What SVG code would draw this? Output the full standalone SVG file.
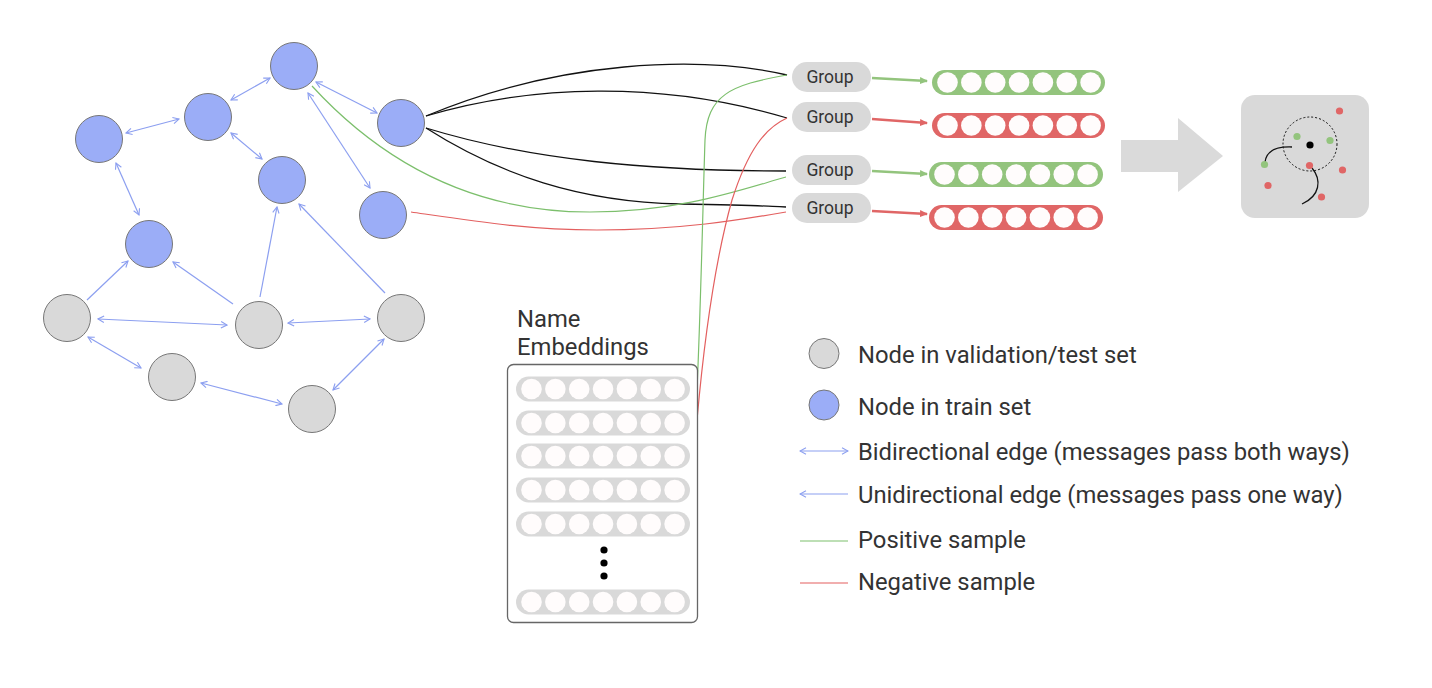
<svg xmlns="http://www.w3.org/2000/svg" xmlns:xlink="http://www.w3.org/1999/xlink" width="1432" height="688" viewBox="0 0 1432 688">
<style>
.train{fill:#9badf7;stroke:#777;stroke-width:1}
.test{fill:#d9d9d9;stroke:#777;stroke-width:1}
.e{stroke:#8c9ff0;stroke-width:1.2;fill:none}
.bi{marker-start:url(#chev);marker-end:url(#chev)}
.uni{marker-end:url(#chev)}
.blk{stroke:#111;stroke-width:1.3;fill:none}
.pos{stroke:#7cbf6c;stroke-width:1.2;fill:none}
.neg{stroke:#e35f5f;stroke-width:1.2;fill:none}
.pill{fill:#d9d9d9}
.gt{font-family:Roboto,"Liberation Sans",sans-serif;font-size:17.5px;fill:#333;text-anchor:middle}
.lt{font-family:Roboto,"Liberation Sans",sans-serif;font-size:23.8px;fill:#333}
.gbar{fill:#93c47d}
.rbar{fill:#e06666}
.nbar{fill:#d9d9d9}
</style>
<defs>
<marker id="chev" viewBox="0 0 8 8" refX="7" refY="4" markerWidth="8" markerHeight="8" markerUnits="userSpaceOnUse" orient="auto-start-reverse">
<path d="M1,0.8 L7,4 L1,7.2" fill="none" stroke="#8c9ff0" stroke-width="1.1"/>
</marker>
<marker id="ga" viewBox="0 0 8 8" refX="7" refY="4" markerWidth="8" markerHeight="8" markerUnits="userSpaceOnUse" orient="auto">
<path d="M0,0.5 L8,4 L0,7.5 Z" fill="#93c47d"/>
</marker>
<marker id="ra" viewBox="0 0 8 8" refX="7" refY="4" markerWidth="8" markerHeight="8" markerUnits="userSpaceOnUse" orient="auto">
<path d="M0,0.5 L8,4 L0,7.5 Z" fill="#e06666"/>
</marker>
<g id="dots" fill="#fffcfc">
<circle cx="15.5" cy="0" r="10.3"/>
<circle cx="39.35" cy="0" r="10.3"/>
<circle cx="63.2" cy="0" r="10.3"/>
<circle cx="87.05" cy="0" r="10.3"/>
<circle cx="110.9" cy="0" r="10.3"/>
<circle cx="134.75" cy="0" r="10.3"/>
<circle cx="158.6" cy="0" r="10.3"/>
</g>
</defs>
<rect width="1432" height="688" fill="#fff"/>

<g id="connectors">
<!-- graph edges -->
<line class="e bi" x1="270" y1="78" x2="231" y2="100"/>
<line class="e bi" x1="179" y1="119" x2="126" y2="133"/>
<line class="e bi" x1="231" y1="133" x2="262" y2="159"/>
<line class="e bi" x1="316" y1="82" x2="377" y2="113"/>
<line class="e bi" x1="308" y1="93" x2="370" y2="188"/>
<line class="e bi" x1="116" y1="163" x2="139" y2="215"/>
<line class="e uni" x1="260" y1="297" x2="277" y2="207"/>
<line class="e uni" x1="385" y1="293" x2="299" y2="204"/>
<line class="e uni" x1="87" y1="300" x2="128" y2="261"/>
<line class="e uni" x1="233" y1="304" x2="173" y2="262"/>
<line class="e bi" x1="98" y1="319" x2="227" y2="325"/>
<line class="e bi" x1="288" y1="323" x2="370" y2="319"/>
<line class="e bi" x1="88" y1="337" x2="141" y2="368"/>
<line class="e bi" x1="201" y1="383" x2="282" y2="404"/>
<line class="e bi" x1="333" y1="390" x2="384" y2="339"/>
<!-- curves to groups -->
<path class="blk" d="M426,116 C560,60 700,55 787,75"/>
<path class="blk" d="M426,116 C530,85 660,80 787,118"/>
<path class="blk" d="M426,128 C530,160 650,171 786,171"/>
<path class="blk" d="M426,128 C500,175 580,202 680,204 S760,206 786,207"/>
<path class="pos" d="M312,86 C380,160 470,212 590,212 C680,212 740,190 786,177"/>
<path class="neg" d="M411,212 C480,222 530,230 597,230 C680,230 740,220 786,212"/>
<path class="pos" d="M697,390 C701,300 703,200 705,140 C707,95 730,85 787,75"/>
<path class="neg" d="M697,420 C705,330 718,250 732,200 C748,150 765,128 787,118"/>
<!-- group to embedding arrows -->
<line x1="872" y1="78" x2="927" y2="81" stroke="#93c47d" stroke-width="2.4" marker-end="url(#ga)"/>
<line x1="872" y1="119" x2="927" y2="123" stroke="#e06666" stroke-width="2.4" marker-end="url(#ra)"/>
<line x1="872" y1="171" x2="927" y2="174" stroke="#93c47d" stroke-width="2.4" marker-end="url(#ga)"/>
<line x1="872" y1="211" x2="927" y2="214" stroke="#e06666" stroke-width="2.4" marker-end="url(#ra)"/>
</g>

<g id="node-train-1"><circle class="train" cx="294" cy="66" r="23.5"/></g>
<g id="node-train-2"><circle class="train" cx="208" cy="117" r="23.5"/></g>
<g id="node-train-3"><circle class="train" cx="99" cy="139" r="23.5"/></g>
<g id="node-train-4"><circle class="train" cx="401" cy="123" r="23.5"/></g>
<g id="node-train-5"><circle class="train" cx="282" cy="180" r="23.5"/></g>
<g id="node-train-6"><circle class="train" cx="383" cy="215" r="23.5"/></g>
<g id="node-train-7"><circle class="train" cx="149" cy="244" r="23.5"/></g>
<g id="node-test-1"><circle class="test" cx="67" cy="318" r="23.5"/></g>
<g id="node-test-2"><circle class="test" cx="259" cy="325" r="23.5"/></g>
<g id="node-test-3"><circle class="test" cx="401" cy="318" r="23.5"/></g>
<g id="node-test-4"><circle class="test" cx="172" cy="377" r="23.5"/></g>
<g id="node-test-5"><circle class="test" cx="312" cy="409" r="23.5"/></g>

<g id="group-1"><rect class="pill" x="792" y="62" width="79" height="30" rx="15"/><text class="gt" x="830" y="83">Group</text></g>
<g id="group-2"><rect class="pill" x="792" y="102" width="79" height="30" rx="15"/><text class="gt" x="830" y="123">Group</text></g>
<g id="group-3"><rect class="pill" x="792" y="155" width="79" height="30" rx="15"/><text class="gt" x="830" y="176">Group</text></g>
<g id="group-4"><rect class="pill" x="792" y="193" width="79" height="30" rx="15"/><text class="gt" x="830" y="214">Group</text></g>

<g id="emb-1"><rect class="gbar" x="932" y="70" width="173" height="25" rx="12.5"/><use xlink:href="#dots" href="#dots" x="932" y="82.5"/></g>
<g id="emb-2"><rect class="rbar" x="932" y="113" width="173" height="25" rx="12.5"/><use xlink:href="#dots" href="#dots" x="932" y="125.5"/></g>
<g id="emb-3"><rect class="gbar" x="929" y="162" width="174" height="25" rx="12.5"/><use xlink:href="#dots" href="#dots" x="929" y="174.5"/></g>
<g id="emb-4"><rect class="rbar" x="929" y="205" width="174" height="25" rx="12.5"/><use xlink:href="#dots" href="#dots" x="929" y="217.5"/></g>

<g id="arrow-big"><polygon points="1121,140 1178,140 1178,118 1223,156 1178,192 1178,172 1121,172" fill="#dadada"/></g>

<g id="embedding-space">
<rect x="1241" y="95" width="128" height="123" rx="14" fill="#d9d9d9"/>
<circle cx="1310" cy="144" r="27" fill="none" stroke="#111" stroke-width="1" stroke-dasharray="2,2"/>
<path d="M1265,162 Q1267,146 1292,147" fill="none" stroke="#111" stroke-width="1.3"/>
<path d="M1312,168 C1322,180 1320,196 1302,204" fill="none" stroke="#111" stroke-width="1.3"/>
<circle cx="1310" cy="145" r="3.6" fill="#000"/>
<g fill="#93c47d"><circle cx="1297" cy="136.5" r="3.6"/><circle cx="1330" cy="140.5" r="3.6"/><circle cx="1264.5" cy="164.5" r="3.6"/></g>
<g fill="#e06666"><circle cx="1339.5" cy="111" r="3.6"/><circle cx="1309.5" cy="165.5" r="3.6"/><circle cx="1342.5" cy="170" r="3.6"/><circle cx="1268" cy="185.5" r="3.6"/><circle cx="1321.5" cy="197" r="3.6"/></g>
</g>

<g id="name-embeddings">
<text class="lt" x="517" y="327">Name</text>
<text class="lt" x="517" y="355">Embeddings</text>
<rect x="507.5" y="364.5" width="190" height="258" rx="6" fill="#fff" stroke="#666" stroke-width="1.3"/>
<rect class="nbar" x="516" y="376.5" width="174" height="25" rx="12.5"/><use xlink:href="#dots" href="#dots" x="516" y="389"/>
<rect class="nbar" x="516" y="410.5" width="174" height="25" rx="12.5"/><use xlink:href="#dots" href="#dots" x="516" y="423"/>
<rect class="nbar" x="516" y="443.5" width="174" height="25" rx="12.5"/><use xlink:href="#dots" href="#dots" x="516" y="456"/>
<rect class="nbar" x="516" y="477.5" width="174" height="25" rx="12.5"/><use xlink:href="#dots" href="#dots" x="516" y="490"/>
<rect class="nbar" x="516" y="511.5" width="174" height="25" rx="12.5"/><use xlink:href="#dots" href="#dots" x="516" y="524"/>
<circle cx="604" cy="550" r="3.6" fill="#000"/>
<circle cx="604" cy="563" r="3.6" fill="#000"/>
<circle cx="604" cy="576" r="3.6" fill="#000"/>
<rect class="nbar" x="516" y="589.5" width="174" height="25" rx="12.5"/><use xlink:href="#dots" href="#dots" x="516" y="602"/>
</g>

<g id="legend">
<circle class="test" cx="824" cy="353.5" r="15"/>
<text class="lt" x="858" y="363">Node in validation/test set</text>
<circle class="train" cx="824" cy="405" r="15"/>
<text class="lt" x="858" y="415">Node in train set</text>
<line class="e bi" x1="800" y1="451" x2="848" y2="451"/>
<text class="lt" x="858" y="460">Bidirectional edge (messages pass both ways)</text>
<line class="e uni" x1="848" y1="494" x2="800" y2="494"/>
<text class="lt" x="858" y="503">Unidirectional edge (messages pass one way)</text>
<line class="pos" x1="800" y1="541" x2="848" y2="541"/>
<text class="lt" x="858" y="548">Positive sample</text>
<line class="neg" x1="800" y1="583" x2="848" y2="583"/>
<text class="lt" x="858" y="590">Negative sample</text>
</g>
</svg>
